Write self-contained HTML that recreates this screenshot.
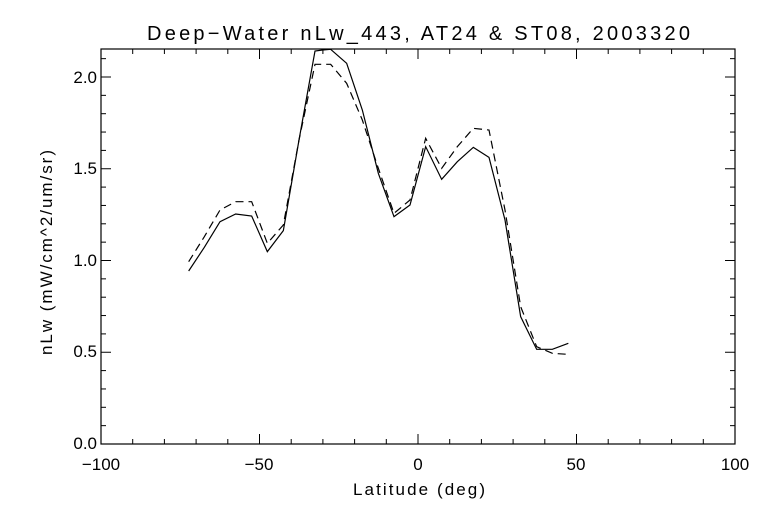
<!DOCTYPE html>
<html><head><style>body{margin:0;background:#fff}svg{display:block}text{font-family:"Liberation Sans",sans-serif;fill:#000}</style></head><body>
<svg width="768" height="512" viewBox="0 0 768 512">
<rect width="768" height="512" fill="#fff"/>
<rect x="101" y="49" width="634" height="395" fill="none" stroke="#000" stroke-width="1.2"/>
<g id="t" stroke="#000" stroke-width="1"></g>
<text x="147" y="40" font-size="20" textLength="543" lengthAdjust="spacing">Deep−Water nLw_443, AT24 &amp; ST08, 2003320</text>
<text x="353" y="495" font-size="17" textLength="132" lengthAdjust="spacing">Latitude (deg)</text>
<text transform="translate(52,355) rotate(-90)" font-size="17" textLength="205" lengthAdjust="spacing">nLw (mW/cm^2/um/sr)</text>
<g font-size="17" text-anchor="middle">
<text x="101" y="470">−100</text><text x="259" y="470">−50</text><text x="418" y="470">0</text><text x="576" y="470">50</text><text x="735" y="470">100</text>
</g>
<g font-size="17" text-anchor="end">
<text x="97" y="449">0.0</text><text x="97" y="357">0.5</text><text x="97" y="266">1.0</text><text x="97" y="174">1.5</text><text x="97" y="83">2.0</text>
</g>
<g transform="translate(170,40) scale(0.33333)" fill="none" stroke="#000">
<polyline vector-effect="non-scaling-stroke" stroke-width="1.2" points="56,693 103,622 150,545 197,522 245,528 292,635 340,572 387,300 435,33 458,30 482,28 530,70 577,210 625,400 672,530 720,495 767,320 815,418 862,365 910,322 957,352 1005,540 1052,830 1100,928 1147,928 1195,910"/>
<polyline vector-effect="non-scaling-stroke" stroke-width="1.2" stroke-dasharray="8,5" points="56,665 103,590 150,510 197,485 245,485 292,610 340,555 387,300 435,73 482,73 530,130 577,240 625,385 672,520 720,480 767,295 815,385 862,320 910,265 957,270 1005,510 1052,800 1100,920 1147,940 1195,943"/>
</g>
</svg>
<script>
var g=document.getElementById('t'),s='';
for(var i=0;i<=20;i++){var x=101+i*31.7,L=(i%5==0)?10:5;s+='<line x1="'+x+'" y1="444" x2="'+x+'" y2="'+(444-L)+'"/><line x1="'+x+'" y1="49" x2="'+x+'" y2="'+(49+L)+'"/>';}
for(var j=0;j<=21;j++){var y=444-j*18.35,L=(j%5==0)?10:5;s+='<line x1="101" y1="'+y+'" x2="'+(101+L)+'" y2="'+y+'"/><line x1="735" y1="'+y+'" x2="'+(735-L)+'" y2="'+y+'"/>';}
g.innerHTML=s;
</script>
</body></html>
